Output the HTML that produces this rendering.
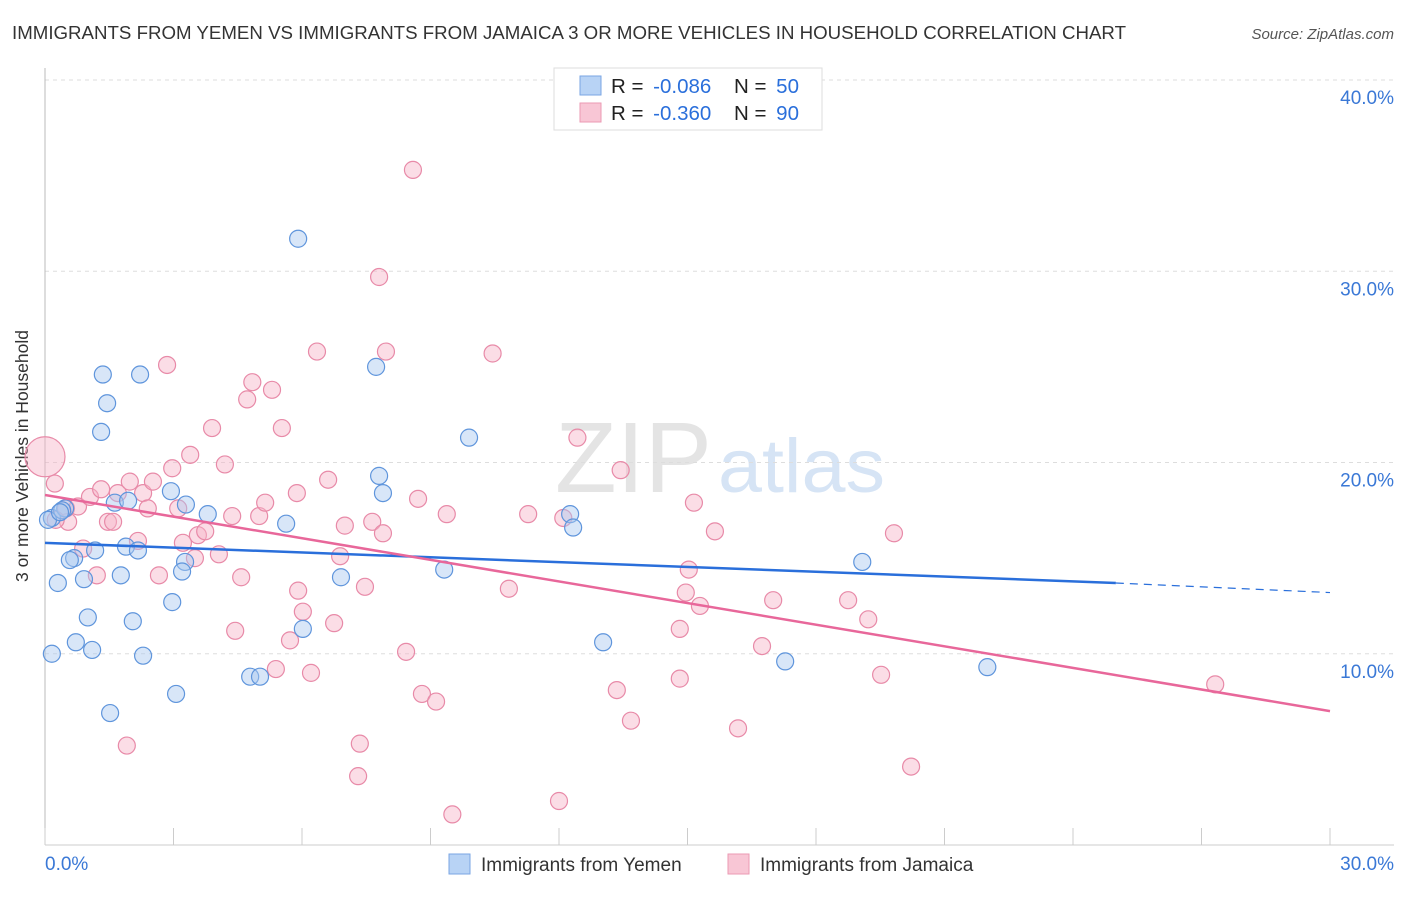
<!DOCTYPE html>
<html><head><meta charset="utf-8"><style>
body{margin:0;background:#fff;font-family:"Liberation Sans",sans-serif;}
svg text{font-family:"Liberation Sans",sans-serif;}
</style></head><body>
<svg id="c" width="1406" height="892" xmlns="http://www.w3.org/2000/svg">
<text x="12" y="39" font-size="18" fill="#333" textLength="1114" lengthAdjust="spacingAndGlyphs">IMMIGRANTS FROM YEMEN VS IMMIGRANTS FROM JAMAICA 3 OR MORE VEHICLES IN HOUSEHOLD CORRELATION CHART</text>
<text x="1394" y="39" font-size="15" fill="#555" font-style="italic" text-anchor="end">Source: ZipAtlas.com</text>
<text x="555" y="492" font-size="100" fill="#e4e4e4" textLength="157" lengthAdjust="spacingAndGlyphs" font-family="Liberation Serif">ZIP</text>
<text x="718" y="492" font-size="76" fill="#d6e4f5" textLength="167" lengthAdjust="spacingAndGlyphs">atlas</text>
<text transform="translate(28,456) rotate(-90)" font-size="17.5" fill="#333" text-anchor="middle">3 or more Vehicles in Household</text>
<g id="grid"></g><g id="marks"></g>
<g>
<rect x="554" y="68" width="268" height="62" fill="#fff" stroke="#ddd"/>
<rect x="580" y="76" width="21" height="19" fill="#b8d3f5" stroke="#7aa6e3"/>
<rect x="580" y="103" width="21" height="19" fill="#f8c6d5" stroke="#eb9ab3"/>
<text x="611" y="93" font-size="20.5" fill="#222">R = <tspan dx="4" fill="#2a6fdb">-0.086</tspan></text>
<text x="734" y="93" font-size="20.5" fill="#222">N = <tspan dx="4" fill="#2a6fdb">50</tspan></text>
<text x="611" y="120" font-size="20.5" fill="#222">R = <tspan dx="4" fill="#2a6fdb">-0.360</tspan></text>
<text x="734" y="120" font-size="20.5" fill="#222">N = <tspan dx="4" fill="#2a6fdb">90</tspan></text>
</g>
<g>
<rect x="449" y="854" width="21" height="20" fill="#b8d3f5" stroke="#7aa6e3"/>
<text x="481" y="871" font-size="19" fill="#333">Immigrants from Yemen</text>
<rect x="728" y="854" width="21" height="20" fill="#f8c6d5" stroke="#eb9ab3"/>
<text x="760" y="871" font-size="19" fill="#333">Immigrants from Jamaica</text>
</g>
</svg>
<script>
const yTicks=[10,20,30,40];
const xTickLabels=["0.0%","30.0%"];
const yemenX=[0.16,0.47,0.3,0.68,0.91,1.17,1.35,1.45,1.31,1.0,0.72,1.1,0.16,1.63,1.94,1.89,2.17,1.77,2.05,2.22,2.29,1.52,2.94,3.29,3.8,3.27,3.2,2.97,3.06,4.79,5.02,5.63,5.91,6.02,6.91,7.73,7.8,7.89,9.32,9.9,12.26,12.33,13.03,17.28,19.08,22.0,0.4,0.07,0.58,0.35];
const yemenY=[17.1,17.6,13.7,15.0,13.9,15.4,24.6,23.1,21.6,11.9,10.6,10.2,10.0,17.9,18.0,15.6,15.4,14.1,11.7,24.6,9.9,6.9,18.5,17.8,17.3,14.8,14.3,12.7,7.9,8.8,8.8,16.8,31.7,11.3,14.0,25.0,19.3,18.4,14.4,21.3,17.3,16.6,10.6,9.6,14.8,9.3,17.5,17.0,14.9,17.4];
const jamaicaX=[0.0,0.23,0.54,0.49,0.77,0.89,1.05,1.21,1.31,1.47,1.59,1.7,1.91,1.98,2.17,2.29,2.52,2.4,2.66,2.85,2.97,3.11,3.22,3.39,3.5,3.57,3.74,3.9,4.06,4.2,4.37,4.44,4.58,4.72,4.84,5.0,5.14,5.3,5.39,5.53,5.88,5.91,6.02,5.72,6.21,6.35,6.61,6.75,6.89,7.0,7.31,7.35,7.47,7.64,7.8,7.89,7.96,8.43,8.59,8.71,8.8,9.13,9.38,9.51,10.45,10.83,11.28,12.0,12.1,12.43,13.44,13.35,13.68,14.82,15.03,15.15,14.82,14.96,15.29,15.64,16.18,16.74,17.0,18.75,19.22,19.52,19.82,20.22,27.32,0.25];
const jamaicaY=[20.3,18.9,16.9,17.6,17.7,15.5,18.2,14.1,18.6,16.9,16.9,18.4,5.2,19.0,15.9,18.4,19.0,17.6,14.1,25.1,19.7,17.6,15.8,20.4,15.0,16.2,16.4,21.8,15.2,19.9,17.2,11.2,14.0,23.3,24.2,17.2,17.9,23.8,9.2,21.8,18.4,13.3,12.2,10.7,9.0,25.8,19.1,11.6,15.1,16.7,3.6,5.3,13.5,16.9,29.7,16.3,25.8,10.1,35.3,18.1,7.9,7.5,17.3,1.6,25.7,13.4,17.3,2.3,17.1,21.3,19.6,8.1,6.5,8.7,14.4,17.9,11.3,13.2,12.5,16.4,6.1,10.4,12.8,12.8,11.8,8.9,16.3,4.1,8.4,17.0];
const X0=45,X1=1330,Y0=845,Y40=80;
const sx=v=>X0+(X1-X0)*v/30, sy=v=>Y0+(Y40-Y0)*v/40;
const NS="http://www.w3.org/2000/svg";
function mk(t,a,p){const e=document.createElementNS(NS,t);for(const k in a)e.setAttribute(k,a[k]);p.appendChild(e);return e;}
const g=document.getElementById('grid'),m=document.getElementById('marks');
yTicks.forEach(t=>{const l=mk('line',{x1:X0,x2:1394,y1:sy(t),y2:sy(t),stroke:'#ddd','stroke-dasharray':'4,4'},g);


const tx=mk('text',{x:1394,y:sy(t)+24,'font-size':19,fill:'#3a78d6','text-anchor':'end'},g);tx.textContent=t.toFixed(1)+'%';

});
mk('line',{x1:X0,x2:X0,y1:68,y2:Y0,stroke:'#bbb'},g);
mk('line',{x1:X0,x2:1394,y1:Y0,y2:Y0,stroke:'#ccc'},g);
for(let i=0;i<=10;i++){const x=sx(i*3);const t=mk('line',{x1:x,x2:x,y1:828,y2:Y0,stroke:'#ccc'},g);

}
[[0,'start',45],[30,'end',1394]].forEach((d,i)=>{const t=mk('text',{x:d[2],y:870,'font-size':19,fill:'#3a78d6','text-anchor':d[1]},g);t.textContent=xTickLabels[i];

});
function dots(xs,ys,fill,stroke,name){xs.forEach((x,i)=>{const c=mk('circle',{cx:sx(x),cy:sy(ys[i]),r:(name==='jamaica-point'&&i===0)?20:8.5,fill:fill,'fill-opacity':0.45,stroke:stroke,'stroke-width':1.2},m);

});}
dots(jamaicaX,jamaicaY,'#f6b3c8','#e88aa8','jamaica-point');
dots(yemenX,yemenY,'#a9c8f0','#5f95dc','yemen-point');
const l1=mk('line',{x1:sx(0),y1:sy(15.8),x2:sx(25),y2:sy(13.7),stroke:'#2a6fdb','stroke-width':2.5},m);


const l1d=mk('line',{x1:sx(25),y1:sy(13.7),x2:sx(30),y2:sy(13.2),stroke:'#2a6fdb','stroke-width':1.2,'stroke-dasharray':'8,6'},m);


const l2=mk('line',{x1:sx(0),y1:sy(18.3),x2:sx(30),y2:sy(7.0),stroke:'#e8679a','stroke-width':2.5},m);


</script>
</body></html>
